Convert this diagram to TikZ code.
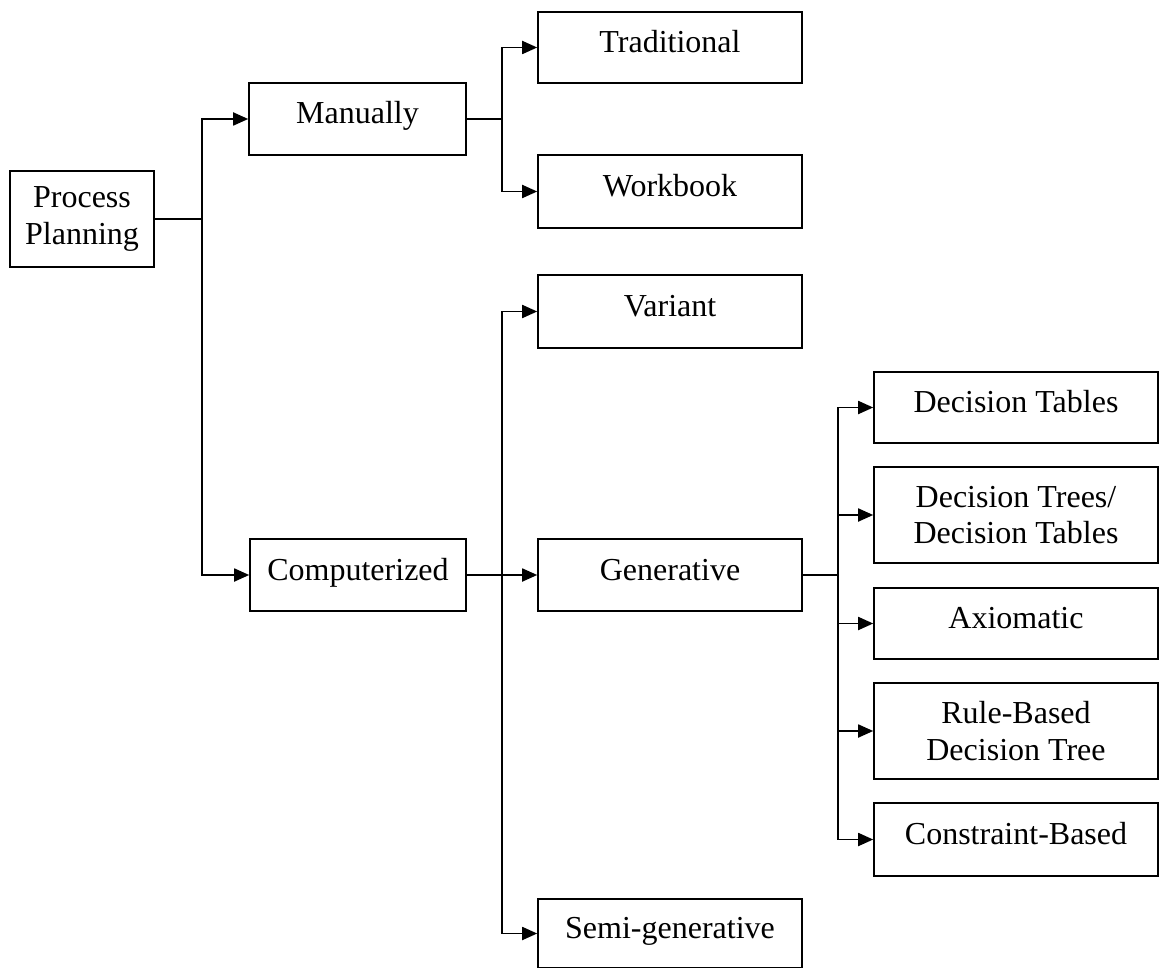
\documentclass[tikz,border=0pt]{standalone}
\usepackage{fontspec}
\setmainfont{Liberation Serif}
\usetikzlibrary{arrows.meta}

\begin{document}
\begin{tikzpicture}[x=1pt, y=-1pt,
  box/.style={draw, line width=1.6pt, rectangle, inner sep=0pt,
    font=\fontsize{32}{36.8}\selectfont},
  onebox/.style={box, text height=25pt, text depth=15pt},
  twobox/.style={box, align=center},
  wide/.style={minimum width=264pt},
  wider/.style={minimum width=284pt},
  stem/.style={line width=2.4pt},
  branch/.style={line width=1.8pt, -{Triangle[length=15pt, width=13pt]}}
]
\useasboundingbox (0,0) rectangle (1159,968);

% first level
\node[twobox, minimum width=144pt, minimum height=96pt] (pp) at (82,219) {Process\\Planning};
\node[onebox, minimum width=217pt, minimum height=72pt] (man) at (357.5,119) {Manually};
\node[onebox, minimum width=216pt, minimum height=72pt] (comp) at (358,575) {Computerized};

% second level
\node[onebox, wide, minimum height=71pt] (trad) at (670,47.5) {Traditional};
\node[onebox, wide, minimum height=73pt] (work) at (670,191.5) {Workbook};
\node[onebox, wide, minimum height=73pt] (var) at (670,311.5) {Variant};
\node[onebox, wide, minimum height=72pt] (gen) at (670,575) {Generative};
\node[onebox, wide, minimum height=69pt] (semi) at (670,933.5) {Semi-generative};

% generative methods
\node[onebox, wider, minimum height=71pt] (dtab) at (1016,407.5) {Decision Tables};
\node[twobox, wider, minimum height=96pt] (dtree) at (1016,515) {Decision Trees/\\Decision Tables};
\node[onebox, wider, minimum height=71pt] (axi) at (1016,623.5) {Axiomatic};
\node[twobox, wider, minimum height=96pt] (rule) at (1016,731) {Rule-Based\\Decision Tree};
\node[onebox, wider, minimum height=73pt] (cons) at (1016,839.5) {Constraint-Based};

% branching points
\coordinate (s1) at (202,219);
\coordinate (s2m) at (502,119);
\coordinate (s2c) at (502,575);
\coordinate (s3) at (838,575);

% connectors
\draw[stem] (pp.east) -- (s1);
\draw[branch] (s1) |- (man);
\draw[branch] (s1) |- (comp);

\draw[stem] (man.east) -- (s2m);
\draw[branch] (s2m) |- (trad);
\draw[branch] (s2m) |- (work);

\draw[stem] (comp.east) -- (s2c);
\draw[branch] (s2c) -- (gen);
\draw[branch] (s2c) |- (var);
\draw[branch] (s2c) |- (semi);

\draw[stem] (gen.east) -- (s3);
\draw[branch] (s3) |- (dtab);
\draw[branch] (s3) |- (dtree);
\draw[branch] (s3) |- (axi);
\draw[branch] (s3) |- (rule);
\draw[branch] (s3) |- (cons);
\end{tikzpicture}
\end{document}
